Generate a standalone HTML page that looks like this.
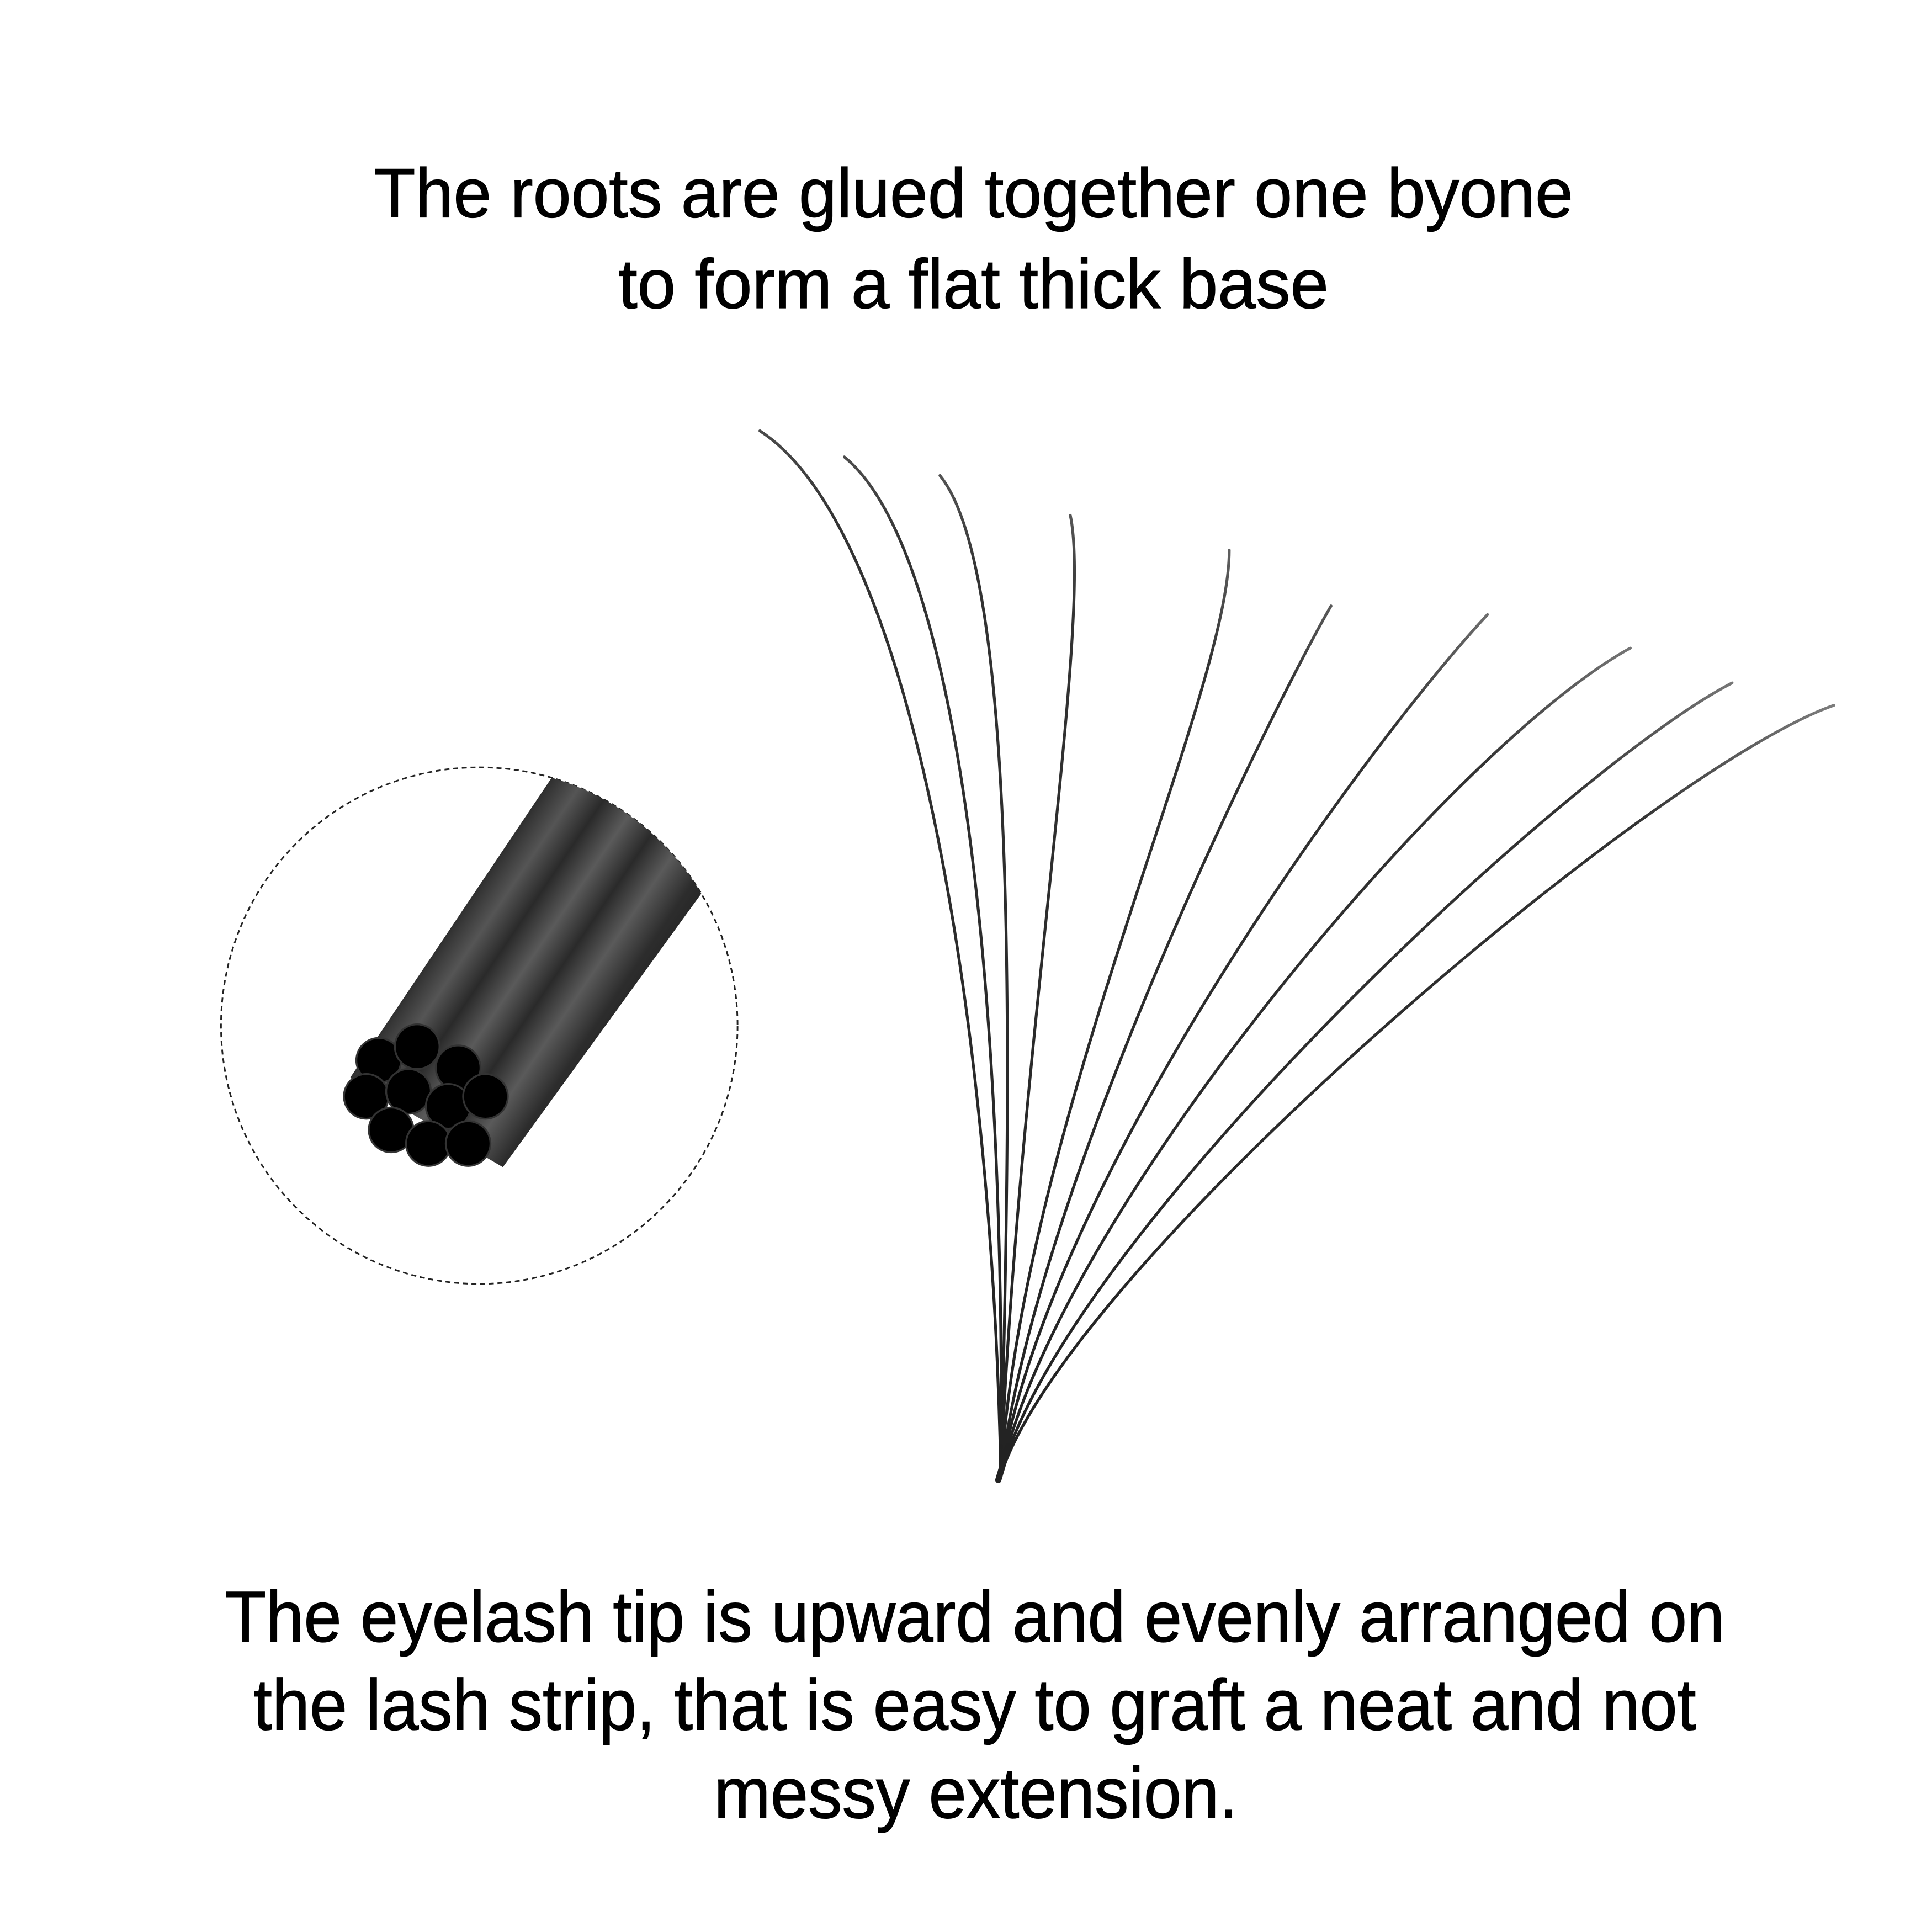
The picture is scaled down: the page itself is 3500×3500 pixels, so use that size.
<!DOCTYPE html>
<html><head><meta charset="utf-8"><style>
html,body{margin:0;padding:0;background:#fff;}
svg{display:block;}
</style></head><body>
<svg width="3500" height="3500" viewBox="0 0 1556 1556" xmlns="http://www.w3.org/2000/svg">
<defs>
<clipPath id="cc"><circle cx="386" cy="826" r="208"/></clipPath>
<linearGradient id="lg" gradientUnits="userSpaceOnUse" x1="330" y1="790" x2="470" y2="885">
<stop offset="0" stop-color="#2a2a2a"/><stop offset="0.15" stop-color="#555"/><stop offset="0.28" stop-color="#2a2a2a"/>
<stop offset="0.42" stop-color="#5a5a5a"/><stop offset="0.56" stop-color="#2a2a2a"/><stop offset="0.7" stop-color="#5a5a5a"/>
<stop offset="0.85" stop-color="#2d2d2d"/><stop offset="1" stop-color="#222"/>
</linearGradient>
<linearGradient id="fade" gradientUnits="userSpaceOnUse" x1="800" y1="1190" x2="1100" y2="400">
<stop offset="0" stop-color="#222"/><stop offset="0.8" stop-color="#333"/><stop offset="1" stop-color="#888"/>
</linearGradient>
</defs>
<rect width="1556" height="1556" fill="#fff"/>
<g font-family="Liberation Sans, sans-serif" fill="#000" text-anchor="middle" stroke="#000" stroke-width="0.6">
<text x="784" y="175" font-size="56" textLength="966" lengthAdjust="spacingAndGlyphs">The roots are glued together one byone</text>
<text x="784" y="248" font-size="56" textLength="572" lengthAdjust="spacingAndGlyphs">to form a flat thick base</text>
<text x="785" y="1322" font-size="58" textLength="1208" lengthAdjust="spacingAndGlyphs">The eyelash tip is upward and evenly arranged on</text>
<text x="785" y="1393" font-size="58" textLength="1162" lengthAdjust="spacingAndGlyphs">the lash strip, that is easy to graft a neat and not</text>
<text x="786" y="1464" font-size="58" textLength="422" lengthAdjust="spacingAndGlyphs">messy extension.</text>
</g>
<circle cx="386" cy="826" r="208" fill="none" stroke="#222" stroke-width="1.3" stroke-dasharray="4,3"/>
<g clip-path="url(#cc)">
<polygon points="282,868 462,600 590,685 405,940" fill="url(#lg)"/>
</g>
<g fill="#000" stroke="#333" stroke-width="1.5">
<circle cx="305" cy="854" r="18"/><circle cx="336" cy="843" r="18"/><circle cx="369" cy="860" r="18"/>
<circle cx="295" cy="883" r="18"/><circle cx="329" cy="879" r="18"/><circle cx="361" cy="891" r="18"/>
<circle cx="391" cy="883" r="18"/><circle cx="315" cy="910" r="18"/><circle cx="345" cy="921" r="18"/>
<circle cx="377" cy="921" r="18"/>
</g>
<g fill="none" stroke="url(#fade)" stroke-width="2.3" stroke-linecap="round">
<path d="M806,1188 C 800,850 740,430 612,347"/>
<path d="M806,1188 C 810,850 780,450 680,368"/>
<path d="M806,1188 C 815,850 820,460 757,383"/>
<path d="M806,1188 C 820,850 880,500 862,415"/>
<path d="M806,1188 C 825,900 990,560 990,443"/>
<path d="M806,1188 C 835,950 1030,560 1072,488"/>
<path d="M806,1188 C 845,950 1100,600 1198,495"/>
<path d="M806,1188 C 850,980 1170,600 1313,522"/>
<path d="M806,1188 C 855,1000 1260,620 1395,550"/>
<path d="M806,1188 C 860,1020 1330,620 1477,568"/>
</g>
<path d="M804,1192 L812,1165" stroke="#222" stroke-width="5" stroke-linecap="round"/>
</svg>
</body></html>
